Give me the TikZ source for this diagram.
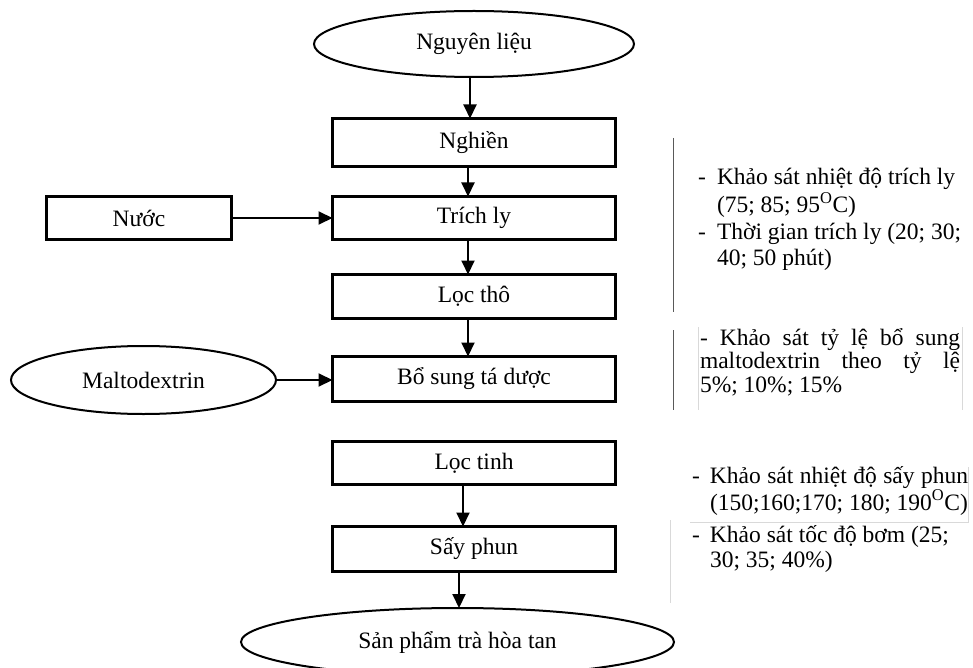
\documentclass[tikz,border=0pt]{standalone}
\usepackage{fontspec}
\setmainfont{Liberation Serif}
\usetikzlibrary{shapes.geometric,arrows.meta}
\begin{document}
\begin{tikzpicture}[x=1pt,y=-1pt,
  every node/.style={font=\fontsize{23.5}{27}\selectfont, inner sep=0pt, outer sep=0pt},
  procbox/.style={draw, line width=3pt, minimum width=283pt},
  oval/.style={draw, ellipse, line width=2pt},
  arr/.style={line width=2pt, -{Triangle[length=14pt,width=13pt]}},
  note/.style={anchor=base west, align=left},
  faint/.style={line width=0.8pt, gray!30},
  darkline/.style={line width=1pt, gray!70!black},
]
\useasboundingbox (0,0) rectangle (973,668);

% main column
\node[oval, minimum width=320pt, minimum height=66pt] (nl) at (474,44) {Nguyên liệu};
\node[procbox, minimum height=48pt] (ng) at (474,142.5) {Nghiền};
\node[procbox, minimum height=43pt] (tl) at (474,218) {Trích ly};
\node[procbox, minimum height=44pt] (lt) at (474,296.5) {Lọc thô};
\node[procbox, minimum height=45pt] (bs) at (474,379) {Bổ sung tá dược};
\node[procbox, minimum height=43pt] (lti) at (474,463) {Lọc tinh};
\node[procbox, minimum height=45pt] (sp) at (474,549) {Sấy phun};
\node[oval, minimum width=433pt, minimum height=68pt] (sph) at (457.5,642) {Sản phẩm trà hòa tan};

% side inputs
\node[draw, line width=3pt, minimum width=185pt, minimum height=43pt] (nuoc) at (139,218) {Nước};
\node[oval, minimum width=265pt, minimum height=68pt] (malto) at (143.5,380) {Maltodextrin};

% arrows
\draw[arr] ([xshift=-4pt]nl.south) -- ([xshift=-4pt]ng.north);
\draw[arr] ([xshift=-6pt]ng.south) -- ([xshift=-6pt]tl.north);
\draw[arr] ([xshift=-6pt]tl.south) -- ([xshift=-6pt]lt.north);
\draw[arr] ([xshift=-6pt]lt.south) -- ([xshift=-6pt]bs.north);
\draw[arr] ([xshift=-11pt]lti.south) -- ([xshift=-11pt]sp.north);
\draw[arr] ([xshift=-15pt]sp.south) -- ([xshift=-15pt]sph.north -| sp.south);
\draw[arr] (nuoc.east) -- (tl.west);
\draw[arr] (malto.east) -- (malto.east -| bs.west);

% notes block 1
\coordinate (l1a) at (673,138);
\coordinate (l1b) at (673,312);
\draw[darkline] (l1a) -- (l1b);
\node[note] (n1a) at (698,185) {\makebox[19pt][l]{-}\parbox[t]{255pt}{\fontsize{23.5}{28}\selectfont Khảo sát nhiệt độ trích ly\\(75; 85; 95\textsuperscript{O}C)}};
\node[note] (n1b) at (698,239) {\makebox[19pt][l]{-}\parbox[t]{255pt}{\fontsize{23.5}{26}\selectfont Thời gian trích ly (20; 30;\\40; 50 phút)}};

% notes block 2
\coordinate (l2a) at (673,330);
\coordinate (l2b) at (673,410);
\coordinate (l2c) at (698,327);
\coordinate (l2d) at (698,410);
\coordinate (l2e) at (962,327);
\coordinate (l2f) at (962,410);
\draw[darkline] (l2a) -- (l2b);
\draw[faint] (l2c) -- (l2d);
\draw[faint] (l2e) -- (l2f);
\node[note] (n2) at (700,345) {\parbox[t]{260pt}{\fontsize{23.5}{23.5}\selectfont\makebox[260pt][s]{- Khảo sát tỷ lệ bổ sung}\\\makebox[260pt][s]{maltodextrin theo tỷ lệ}\\5\%; 10\%; 15\%}};

% notes block 3
\coordinate (l3a) at (690,522);
\coordinate (l3b) at (968,522);
\coordinate (l3c) at (968,467);
\coordinate (l3d) at (670,520);
\coordinate (l3e) at (670,603);
\draw[faint] (l3a) -- (l3b) -- (l3c);
\draw[faint] (l3d) -- (l3e);
\node[note] (n3a) at (692,483) {\makebox[18pt][l]{-}\parbox[t]{258pt}{\fontsize{23.5}{27}\selectfont\makebox[258pt][s]{Khảo sát nhiệt độ sấy phun}\\(150;160;170; 180; 190\textsuperscript{O}C)}};
\node[note] (n3b) at (692,542) {\makebox[18pt][l]{-}\parbox[t]{258pt}{\fontsize{23.5}{25}\selectfont Khảo sát tốc độ bơm (25;\\30; 35; 40\%)}};
\end{tikzpicture}
\end{document}
